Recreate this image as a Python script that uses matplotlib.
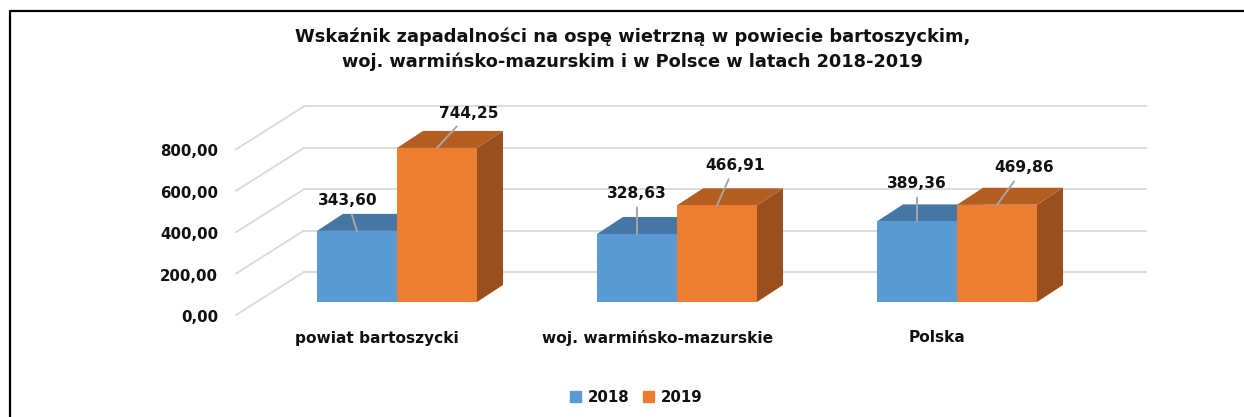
import matplotlib
matplotlib.use('Agg')
import matplotlib.pyplot as plt
from matplotlib.lines import Line2D
from matplotlib.patches import Patch, Polygon

plt.rcParams['font.family'] = 'DejaVu Sans'
plt.rcParams['font.weight'] = 'bold'

categories = ['powiat bartoszycki', 'woj. warmińsko-mazurskie', 'Polska']
years = ['2018', '2019']
values_2018 = [343.60, 328.63, 389.36]
values_2019 = [744.25, 466.91, 469.86]
labels_2018 = ['343,60', '328,63', '389,36']
labels_2019 = ['744,25', '466,91', '469,86']
ticks = [0, 200, 400, 600, 800]
tick_labels = ['0,00', '200,00', '400,00', '600,00', '800,00']

W, H = 1244, 417
PX_X = 280.0     # pixels per category
PX_Y = 0.207     # pixels per value unit
X0, Y0 = 397, 302  # pixel of category 0 / value 0
BAR_W = 80 / PX_X


def dx(px):
    return px / PX_X


def dy(px):
    return px / PX_Y


def xpix(px):
    # absolute pixel column -> category units
    return (px - X0) / PX_X


fig = plt.figure(figsize=(W / 100, H / 100), dpi=100)
ax = fig.add_axes([0, 0, 1, 1])
ax.set_xlim(xpix(0), xpix(W))
ax.set_ylim(-(H - Y0) / PX_Y, Y0 / PX_Y)
ax.axis('off')

# grid: slanted wall part + back wall
grid_c = '#d9d9d9'
for t, lab in zip(ticks, tick_labels):
    ax.plot([xpix(236), xpix(304)], [t + dy(-13), t + dy(30)],
            color=grid_c, lw=1.3, zorder=1)
    ax.plot([xpix(304), xpix(1146)], [t + dy(30), t + dy(30)],
            color=grid_c, lw=1.3, zorder=1)
    ax.text(xpix(218), t + dy(-15.5), lab, ha='right', va='center',
            fontsize=10.8, color='#111111')


def bar3d(x, val, front, top, side, z):
    d_x, d_y = dx(26), dy(17)
    ax.add_patch(Polygon([(x + BAR_W / 2, 0), (x + BAR_W / 2 + d_x, d_y),
                          (x + BAR_W / 2 + d_x, val + d_y), (x + BAR_W / 2, val)],
                         fc=side, ec='none', zorder=z))
    ax.add_patch(Polygon([(x - BAR_W / 2, val), (x - BAR_W / 2 + d_x, val + d_y),
                          (x + BAR_W / 2 + d_x, val + d_y), (x + BAR_W / 2, val)],
                         fc=top, ec='none', zorder=z))
    ax.bar(x, val, width=BAR_W, color=front, zorder=z + 0.1)


for i in range(len(categories)):
    bar3d(i - BAR_W / 2, values_2018[i], '#5b9bd5', '#4676a3', '#3f6c96', 2 + i)
    bar3d(i + BAR_W / 2, values_2019[i], '#ed7d31', '#b55e22', '#99501e', 2.5 + i)
    ax.text(i + dx(-20), dy(-36), categories[i], ha='center', va='center',
            fontsize=11.1, color='#111111')

# data labels with leader lines, offsets in points
off_2018 = [(-7, 22), (0, 29.5), (0, 27.5)]
off_2019 = [(23, 25), (13, 29), (19.5, 26.6)]
for i in range(len(categories)):
    for x, v, lab, off in ((i - BAR_W / 2, values_2018[i], labels_2018[i], off_2018[i]),
                           (i + BAR_W / 2, values_2019[i], labels_2019[i], off_2019[i])):
        ax.annotate(lab, xy=(x, v), xytext=off, textcoords='offset points',
                    ha='center', va='center', fontsize=11.1, color='#111111', zorder=20,
                    arrowprops=dict(arrowstyle='-', color='#a6a6a6', lw=1.4,
                                    shrinkA=3, shrinkB=0, zorder=19))

fig.text(633 / W, 1 - 37 / H, 'Wskaźnik zapadalności na ospę wietrzną w powiecie bartoszyckim,',
         ha='center', va='center', fontsize=12.9, color='#111111')
fig.text(632 / W, 1 - 62 / H, 'woj. warmińsko-mazurskim i w Polsce w latach 2018-2019',
         ha='center', va='center', fontsize=12.8, color='#111111')

handles = [Patch(color='#5b9bd5'), Patch(color='#ed7d31')]
fig.legend(handles, years, ncol=2, loc='center', bbox_to_anchor=(636 / W, 1 - 397 / H),
           frameon=False, fontsize=10.8, handlelength=0.75, handleheight=0.75,
           handletextpad=0.45, columnspacing=0.9, labelcolor='#111111')

# frame only on top and left
fig.add_artist(Line2D([10 / W, 10 / W, 1], [0, 1 - 11 / H, 1 - 11 / H],
                      color='black', lw=1.6))

fig.savefig('out.png', dpi=100)
